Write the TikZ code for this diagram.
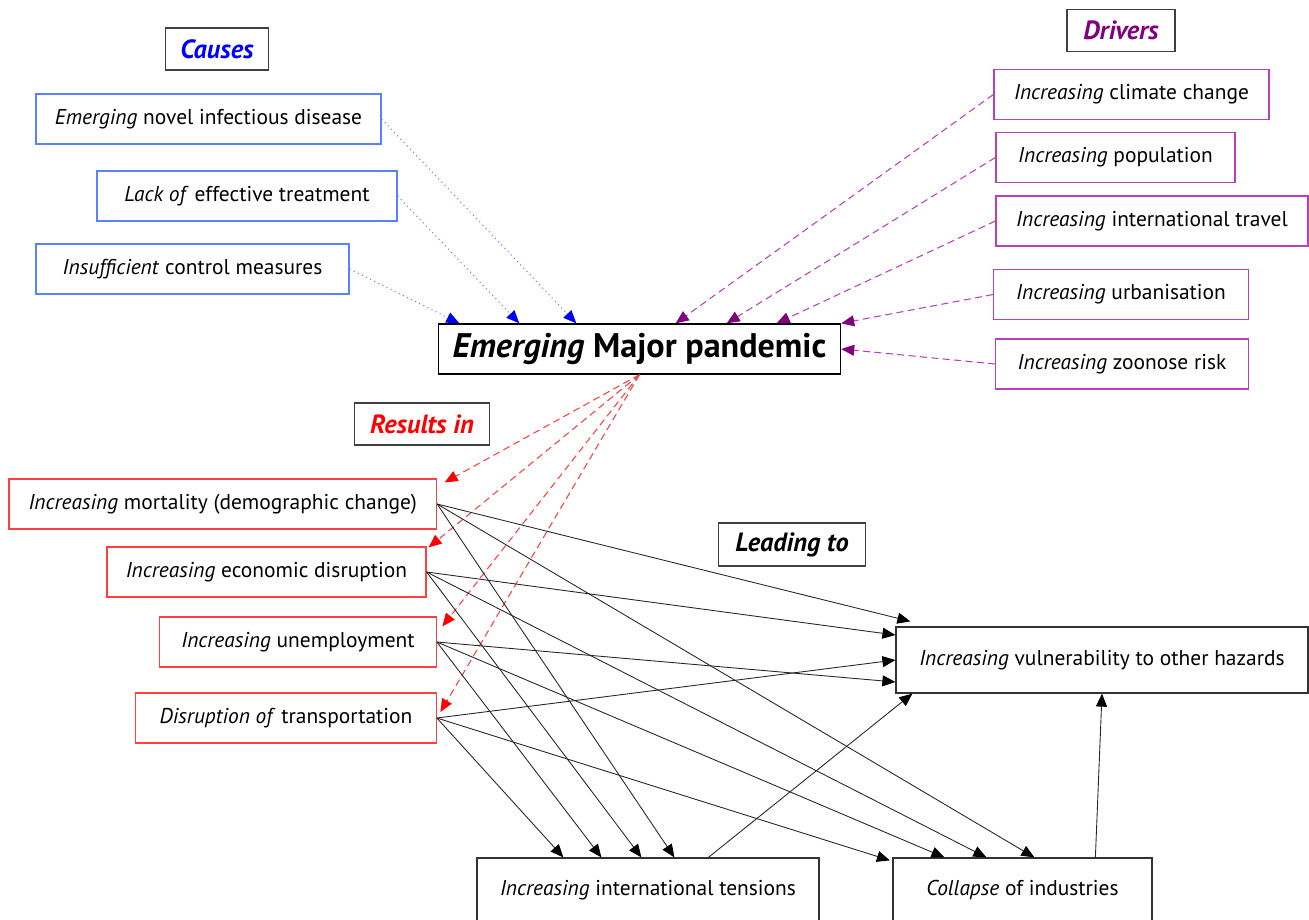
\documentclass[tikz,border=0pt]{standalone}
\usepackage{fontspec}
\setmainfont{PT Sans}
\usetikzlibrary{arrows.meta}
\usetikzlibrary{calc}

\definecolor{causeblue}{HTML}{5A82FF}
\definecolor{causetip}{HTML}{0000FF}
\definecolor{drvline}{HTML}{B840B8}
\definecolor{drvtip}{HTML}{800080}
\definecolor{resred}{HTML}{FF4040}
\definecolor{restip}{HTML}{FF0000}

\tikzset{
  headbox/.style={draw=black!75, line width=0.7pt, minimum height=0.84cm,
    font=\fontsize{15}{17}\selectfont\bfseries\itshape},
  causebox/.style={draw=causeblue, line width=0.7pt, minimum height=1cm},
  drvbox/.style={draw=drvline, line width=0.7pt, minimum height=1cm},
  resbox/.style={draw=resred, line width=0.7pt, minimum height=1cm},
  effbox/.style={draw=black!80, line width=0.7pt},
  causearrow/.style={draw=causeblue, dotted, line width=0.6pt,
    -{Triangle[length=2.6mm, width=2.2mm, color=causetip]}},
  drvarrow/.style={draw=drvline, dash pattern=on 4pt off 2.5pt, line width=0.6pt,
    -{Triangle[length=2.6mm, width=2.2mm, color=drvtip]}},
  resarrow/.style={draw=resred, dash pattern=on 4pt off 2.5pt, line width=0.6pt,
    -{Triangle[length=2.6mm, width=2.2mm, color=restip]}},
  effarrow/.style={draw=black!85, line width=0.5pt,
    -{Triangle[length=2.6mm, width=2.2mm, color=black]}}
}

\begin{document}
\begin{tikzpicture}[font=\fontsize{12.2}{14}\selectfont]
      \useasboundingbox (0,0) rectangle (26.18,-18.38);

      % headings
      \node at (4.34,-0.98) [headbox, minimum width=2.06cm, name=causes]
      {\textcolor{causetip}{Causes}};
      \node at (22.42,-0.61) [headbox, minimum width=2.16cm, name=drivers]
      {\textcolor{drvtip}{Drivers}};
      \node at (8.44,-8.48) [headbox, minimum width=2.71cm, name=results]
      {\textcolor{restip}{Results in}};
      \node at (15.84,-10.89) [headbox, minimum width=2.93cm, minimum height=0.86cm, name=leading]
      {Leading to};

      % causes
      \node at (4.17,-2.38) [causebox, minimum width=6.9cm, name=c1]
      {\textit{Emerging} novel infectious disease};
      \node at (4.94,-3.92) [causebox, minimum width=6.0cm, name=c2]
      {\textit{Lack of} effective treatment};
      \node at (3.85,-5.38) [causebox, minimum width=6.26cm, name=c3]
      {\textit{Insufficient} control measures};

      % main event
      \node at (12.79,-6.98)
      [draw, line width=0.8pt, minimum width=8.04cm, minimum height=1cm, name=pandemic,
      font=\fontsize{19.4}{22}\selectfont\bfseries]
      {\textit{Emerging} Major pandemic};

      % drivers
      \node at (22.63,-1.89) [drvbox, minimum width=5.5cm, name=d1]
      {\textit{Increasing} climate change};
      \node at (22.31,-3.15) [drvbox, minimum width=4.78cm, name=d2]
      {\textit{Increasing} population};
      \node at (23.04,-4.42) [drvbox, minimum width=6.24cm, name=d3]
      {\textit{Increasing} international travel};
      \node at (22.42,-5.89) [drvbox, minimum width=5.09cm, name=d4]
      {\textit{Increasing} urbanisation};
      \node at (22.44,-7.28) [drvbox, minimum width=5.05cm, name=d5]
      {\textit{Increasing} zoonose risk};

      % results
      \node at (4.455,-10.08) [resbox, minimum width=8.55cm, name=r1]
      {\textit{Increasing} mortality (demographic change)};
      \node at (5.33,-11.44) [resbox, minimum width=6.38cm, name=r2]
      {\textit{Increasing} economic disruption};
      \node at (5.96,-12.84) [resbox, minimum width=5.53cm, name=r3]
      {\textit{Increasing} unemployment};
      \node at (5.72,-14.36) [resbox, minimum width=6.01cm, name=r4]
      {\textit{Disruption of} transportation};

      % consequences
      \node at (22.04,-13.2) [effbox, minimum width=8.24cm, minimum height=1.32cm, name=vuln]
      {\textit{Increasing} vulnerability to other hazards};
      \node at (12.96,-17.8) [effbox, minimum width=6.84cm, minimum height=1.28cm, name=tens]
      {\textit{Increasing} international tensions};
      \node at (20.45,-17.8) [effbox, minimum width=5.18cm, minimum height=1.28cm, name=coll]
      {\textit{Collapse} of industries};

      \draw [causearrow] (c1.east) -- ($(pandemic.north west) + (2.77, 0)$);
      \draw [causearrow] (c2.east) -- ($(pandemic.north west) + (1.63, 0)$);
      \draw [causearrow] (c3.east) -- ($(pandemic.north west) + (0.43, 0)$);

      \draw [drvarrow] (d1.west) -- ($(pandemic.north east) + (-3.31, 0)$);
      \draw [drvarrow] (d2.west) -- ($(pandemic.north east) + (-2.29, 0)$);
      \draw [drvarrow] (d3.west) -- ($(pandemic.north east) + (-1.29, 0)$);
      \draw [drvarrow] (d4.west) -- (pandemic.north east);
      \draw [drvarrow] (d5.west) -- (pandemic.east);

      \draw [resarrow] (pandemic.south) -- ($(r1.north east) + (0.15, -0.08)$);
      \draw [resarrow] (pandemic.south) -- ($(r2.north east) + (0.04, -0.02)$);
      \draw [resarrow] (pandemic.south) -- ($(r3.north east) + (0.11, -0.2)$);
      \draw [resarrow] (pandemic.south) -- ($(r4.east) + (0.07, 0.12)$);

      % leading to vulnerability
      \draw [effarrow] (r1.east) -- ($(vuln.north west) + (0.3, 0.1)$);
      \draw [effarrow] (r2.east) -- ($(vuln.west) + (0, 0.5)$);
      \draw [effarrow] (r3.east) -- ($(vuln.west) + (0, -0.44)$);
      \draw [effarrow] (r4.east) -- (vuln.west);

      % leading to tensions
      \draw [effarrow] (r1.east) -- ($(tens.north west) + (3.96, 0)$);
      \draw [effarrow] (r2.east) -- ($(tens.north west) + (3.3, 0)$);
      \draw [effarrow] (r3.east) -- ($(tens.north west) + (2.5, 0)$);
      \draw [effarrow] (r4.east) -- ($(tens.north west) + (1.74, 0)$);

      % leading to collapse
      \draw [effarrow] (r1.east) -- ($(coll.north west) + (2.84, 0)$);
      \draw [effarrow] (r2.east) -- ($(coll.north west) + (1.88, 0)$);
      \draw [effarrow] (r3.east) -- ($(coll.north west) + (1.04, 0)$);
      \draw [effarrow] (r4.east) -- ($(coll.north west) + (-0.05, -0.06)$);

      \draw [effarrow] ($(tens.north west) + (4.64, 0)$) -- ($(vuln.south west) + (0.34, 0)$);
      \draw [effarrow] ($(coll.north west) + (4.06, 0)$) -- (vuln.south);
\end{tikzpicture}
\end{document}
